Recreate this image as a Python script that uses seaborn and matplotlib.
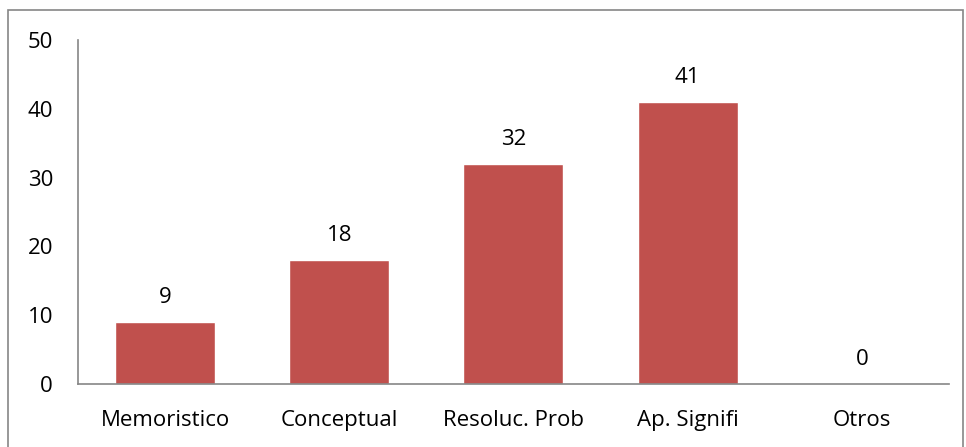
import matplotlib
matplotlib.use("Agg")
from matplotlib import pyplot as plt
from matplotlib.patches import Rectangle
import pandas as pd
import seaborn as sns

categories = ['Memoristico', 'Conceptual', 'Resoluc. Prob', 'Ap. Signifi', 'Otros']
values = [9, 18, 32, 41, 0]
y_ticks = [0, 10, 20, 30, 40, 50]

sns.set_style('white')
plt.rcParams['font.family'] = ['Open Sans', 'DejaVu Sans']
plt.rcParams['text.color'] = 'black'
plt.rcParams['xtick.color'] = 'black'
plt.rcParams['ytick.color'] = 'black'

df = pd.DataFrame({'cat': categories, 'val': values})

fig = plt.figure(figsize=(9.66, 4.47), dpi=100)
ax = fig.add_axes([0.0807, 0.141, 0.9017, 0.7695])
sns.barplot(data=df, x='cat', y='val', color='#C0504D', saturation=1, width=0.574, ax=ax)

fs = 16
ax.set_ylim(0, 50)
ax.set_xlim(-0.5, len(categories) - 0.5)
ax.set_yticks(y_ticks)
ax.set_yticklabels([str(t) for t in y_ticks], fontsize=fs)
ax.set_xticks(range(len(categories)))
ax.set_xticklabels(categories, fontsize=fs)
ax.tick_params(axis='both', length=0)
ax.tick_params(axis='y', pad=18)
ax.tick_params(axis='x', pad=19)
ax.set_xlabel('')
ax.set_ylabel('')

for s in ['top', 'right']:
    ax.spines[s].set_visible(False)
for s in ['left', 'bottom']:
    ax.spines[s].set_color('#868686')
    ax.spines[s].set_linewidth(1.2)

for i, v in enumerate(values):
    ax.annotate(str(v), (i, v), xytext=(0, 10), textcoords='offset points',
                ha='center', va='bottom', fontsize=fs)

fig.patches.append(Rectangle((8 / 966, -0.05), 955 / 966, 1 - 10 / 447 + 0.05,
                             transform=fig.transFigure, fill=False,
                             edgecolor='#868686', linewidth=1.2))

fig.savefig('out.png', dpi=100)
